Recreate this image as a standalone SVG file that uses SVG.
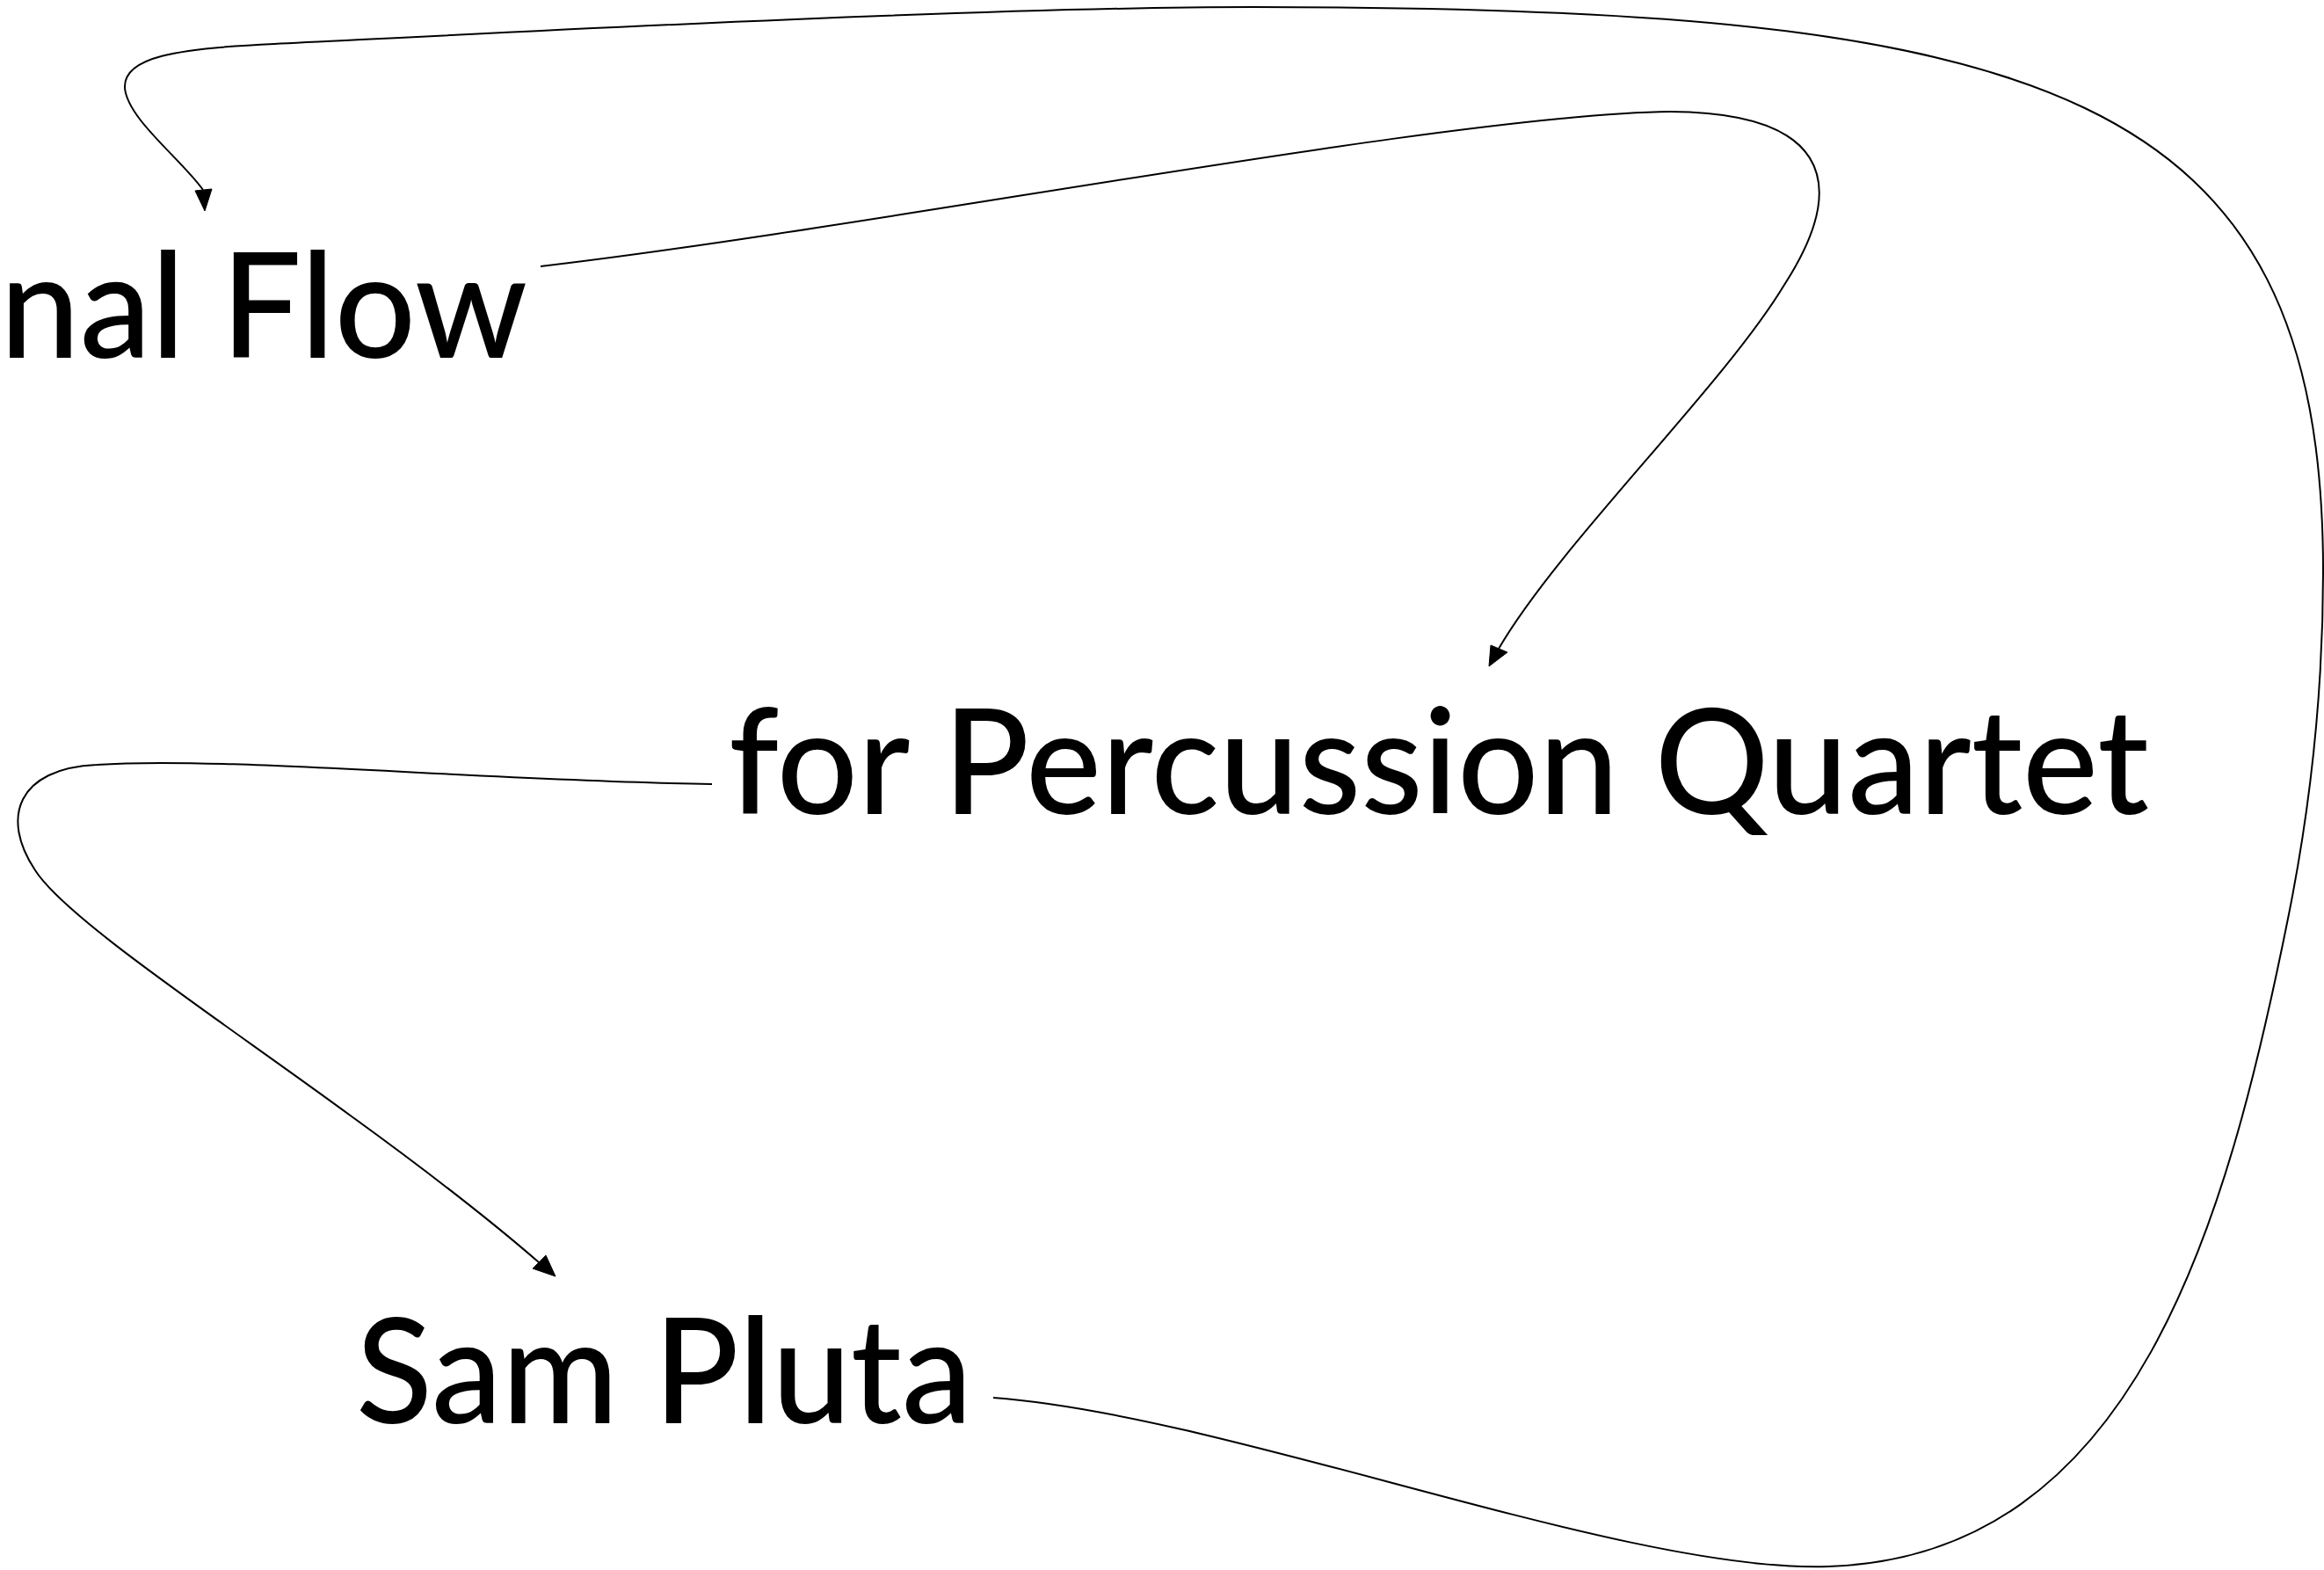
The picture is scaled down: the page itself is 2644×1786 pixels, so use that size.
<svg xmlns="http://www.w3.org/2000/svg" width="2644" height="1786" viewBox="0 0 2644 1786">
<style>
.lbl{font-family:Lato,"Liberation Sans","DejaVu Sans",sans-serif;font-size:166px;font-weight:500;fill:#000;}
.edge{fill:none;stroke:#000;stroke-width:2;}
.arrow{fill:#000;stroke:#000;stroke-width:1;}
</style>
<rect width="2644" height="1786" fill="#fff"/>
<g id="connectors">
<path class="edge" d="M615,303 C1000,258 1650,130 1900,127 C2070,128 2110,200 2030,324 C1960,440 1775,618 1705,738"/>
<polygon class="arrow" points="1696,734 1715,742 1694,758"/>
<path class="edge" d="M810,892 C550,888 250,860 110,870 C20,874 0,930 40,990 C75,1045 250,1160 400,1270 C480,1328 560,1390 613,1436"/>
<polygon class="arrow" points="606,1443 621,1428 632,1452"/>
<path class="edge" d="M1130,1590 C1400,1610 1850,1790 2080,1782 C2430,1771 2534,1390 2604,1040 C2630,910 2643,780 2643,650 C2643,100 2325,8 1425,8 C1100,8 480,42 312,50 C200,55 140,65 142,100 C145,135 205,180 231,216"/>
<polygon class="arrow" points="222,217 241,215 233,240"/>
</g>
<g id="node-flow"><text class="lbl" x="0" y="407" textLength="600" lengthAdjust="spacingAndGlyphs">nal Flow</text></g>
<g id="node-percussion"><text class="lbl" x="829" y="926" textLength="1616" lengthAdjust="spacingAndGlyphs">for Percussion Quartet</text></g>
<g id="node-sam"><text class="lbl" x="405" y="1619" textLength="701" lengthAdjust="spacingAndGlyphs">Sam Pluta</text></g>
</svg>
